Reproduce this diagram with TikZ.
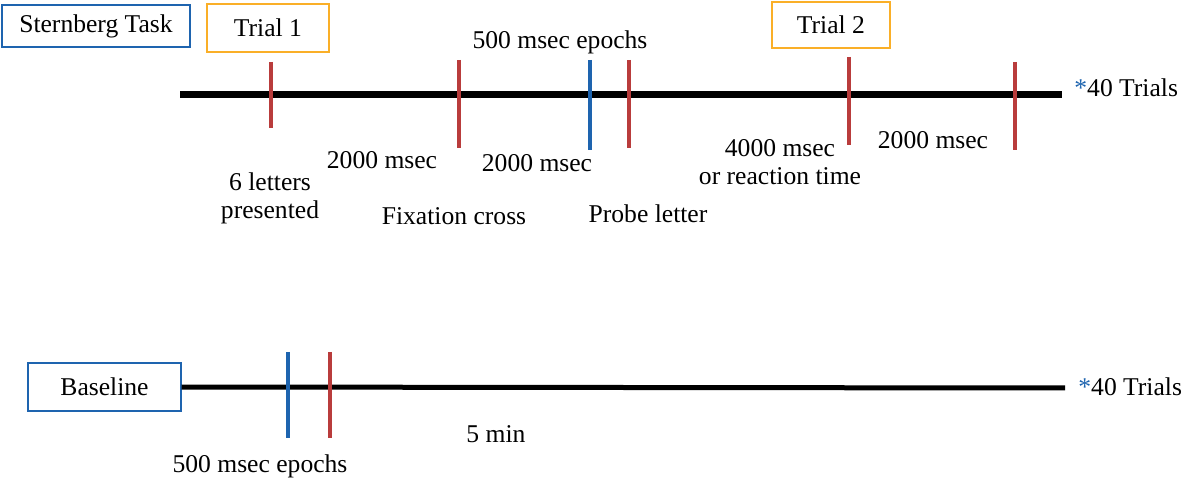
\documentclass[tikz,border=0pt]{standalone}
\usepackage{fontspec}
\setmainfont{Liberation Serif}
\begin{document}
\begin{tikzpicture}[x=0.5pt,y=-0.5pt,
 lbl/.style={font=\fontsize{12.8}{14}\selectfont,align=center,inner sep=0pt},
 bbox/.style={draw=tblue,line width=0.6pt,font=\fontsize{12.8}{14}\selectfont,inner sep=0pt},
 obox/.style={draw=torange,line width=0.6pt,font=\fontsize{12.8}{14}\selectfont,inner sep=0pt},
 red tick/.style={draw=tred,line width=2pt},
 blue tick/.style={draw=tblue,line width=2.2pt}]
\definecolor{tblue}{RGB}{30,100,175}
\definecolor{tred}{RGB}{185,60,60}
\definecolor{torange}{RGB}{250,175,40}
\useasboundingbox (0,0) rectangle (1191,481);
\node[bbox,minimum width=94pt,minimum height=21pt] (st) at (96,26) {Sternberg Task};
\node[obox,minimum width=61pt,minimum height=24pt] (t1) at (268,28) {Trial 1};
\node[obox,minimum width=59pt,minimum height=23pt] (t2) at (831,25) {Trial 2};
\node[lbl] (ep) at (560,42) {500 msec epochs};
\coordinate (a0) at (180,95); \coordinate (a1) at (1062,95);
\draw[line width=3.5pt] (a0) -- (a1);
\foreach \x/\ya/\yb/\n in {271/62/128/r1,459/60/148/r2,629/60/148/r3,849/57/145/r4,1015/62/150/r5}{
 \coordinate (\n a) at (\x,\ya); \coordinate (\n b) at (\x,\yb);
 \draw[red tick] (\n a) -- (\n b);}
\coordinate (b1a) at (590,60); \coordinate (b1b) at (590,150);
\draw[blue tick] (b1a) -- (b1b);
\node[lbl,anchor=west] (tr1) at (1074,88) {\textcolor{tblue}{*}40 Trials};
\node[lbl] at (382,160) {2000 msec};
\node[lbl] at (270,198) {6 letters\\presented};
\node[lbl] at (454,216) {Fixation cross};
\node[lbl] at (537,163) {2000 msec};
\node[lbl] at (648,214) {Probe letter};
\node[lbl] at (780,162) {4000 msec\\or reaction time};
\node[lbl] at (933,140) {2000 msec};
\node[bbox,minimum width=76.5pt,minimum height=24pt] (bl) at (104.5,387) {Baseline};
\coordinate (c1) at (1065,388);
\draw[line width=2.5pt] (bl.east) -- (c1);
\coordinate (bb1a) at (288,352); \coordinate (bb1b) at (288,438);
\draw[blue tick] (bb1a) -- (bb1b);
\coordinate (rb1a) at (330,352); \coordinate (rb1b) at (330,438);
\draw[red tick] (rb1a) -- (rb1b);
\node[lbl] at (496,434) {5 min};
\node[lbl] at (260,466) {500 msec epochs};
\node[lbl,anchor=west] (tr2) at (1078,387) {\textcolor{tblue}{*}40 Trials};
\end{tikzpicture}
\end{document}
